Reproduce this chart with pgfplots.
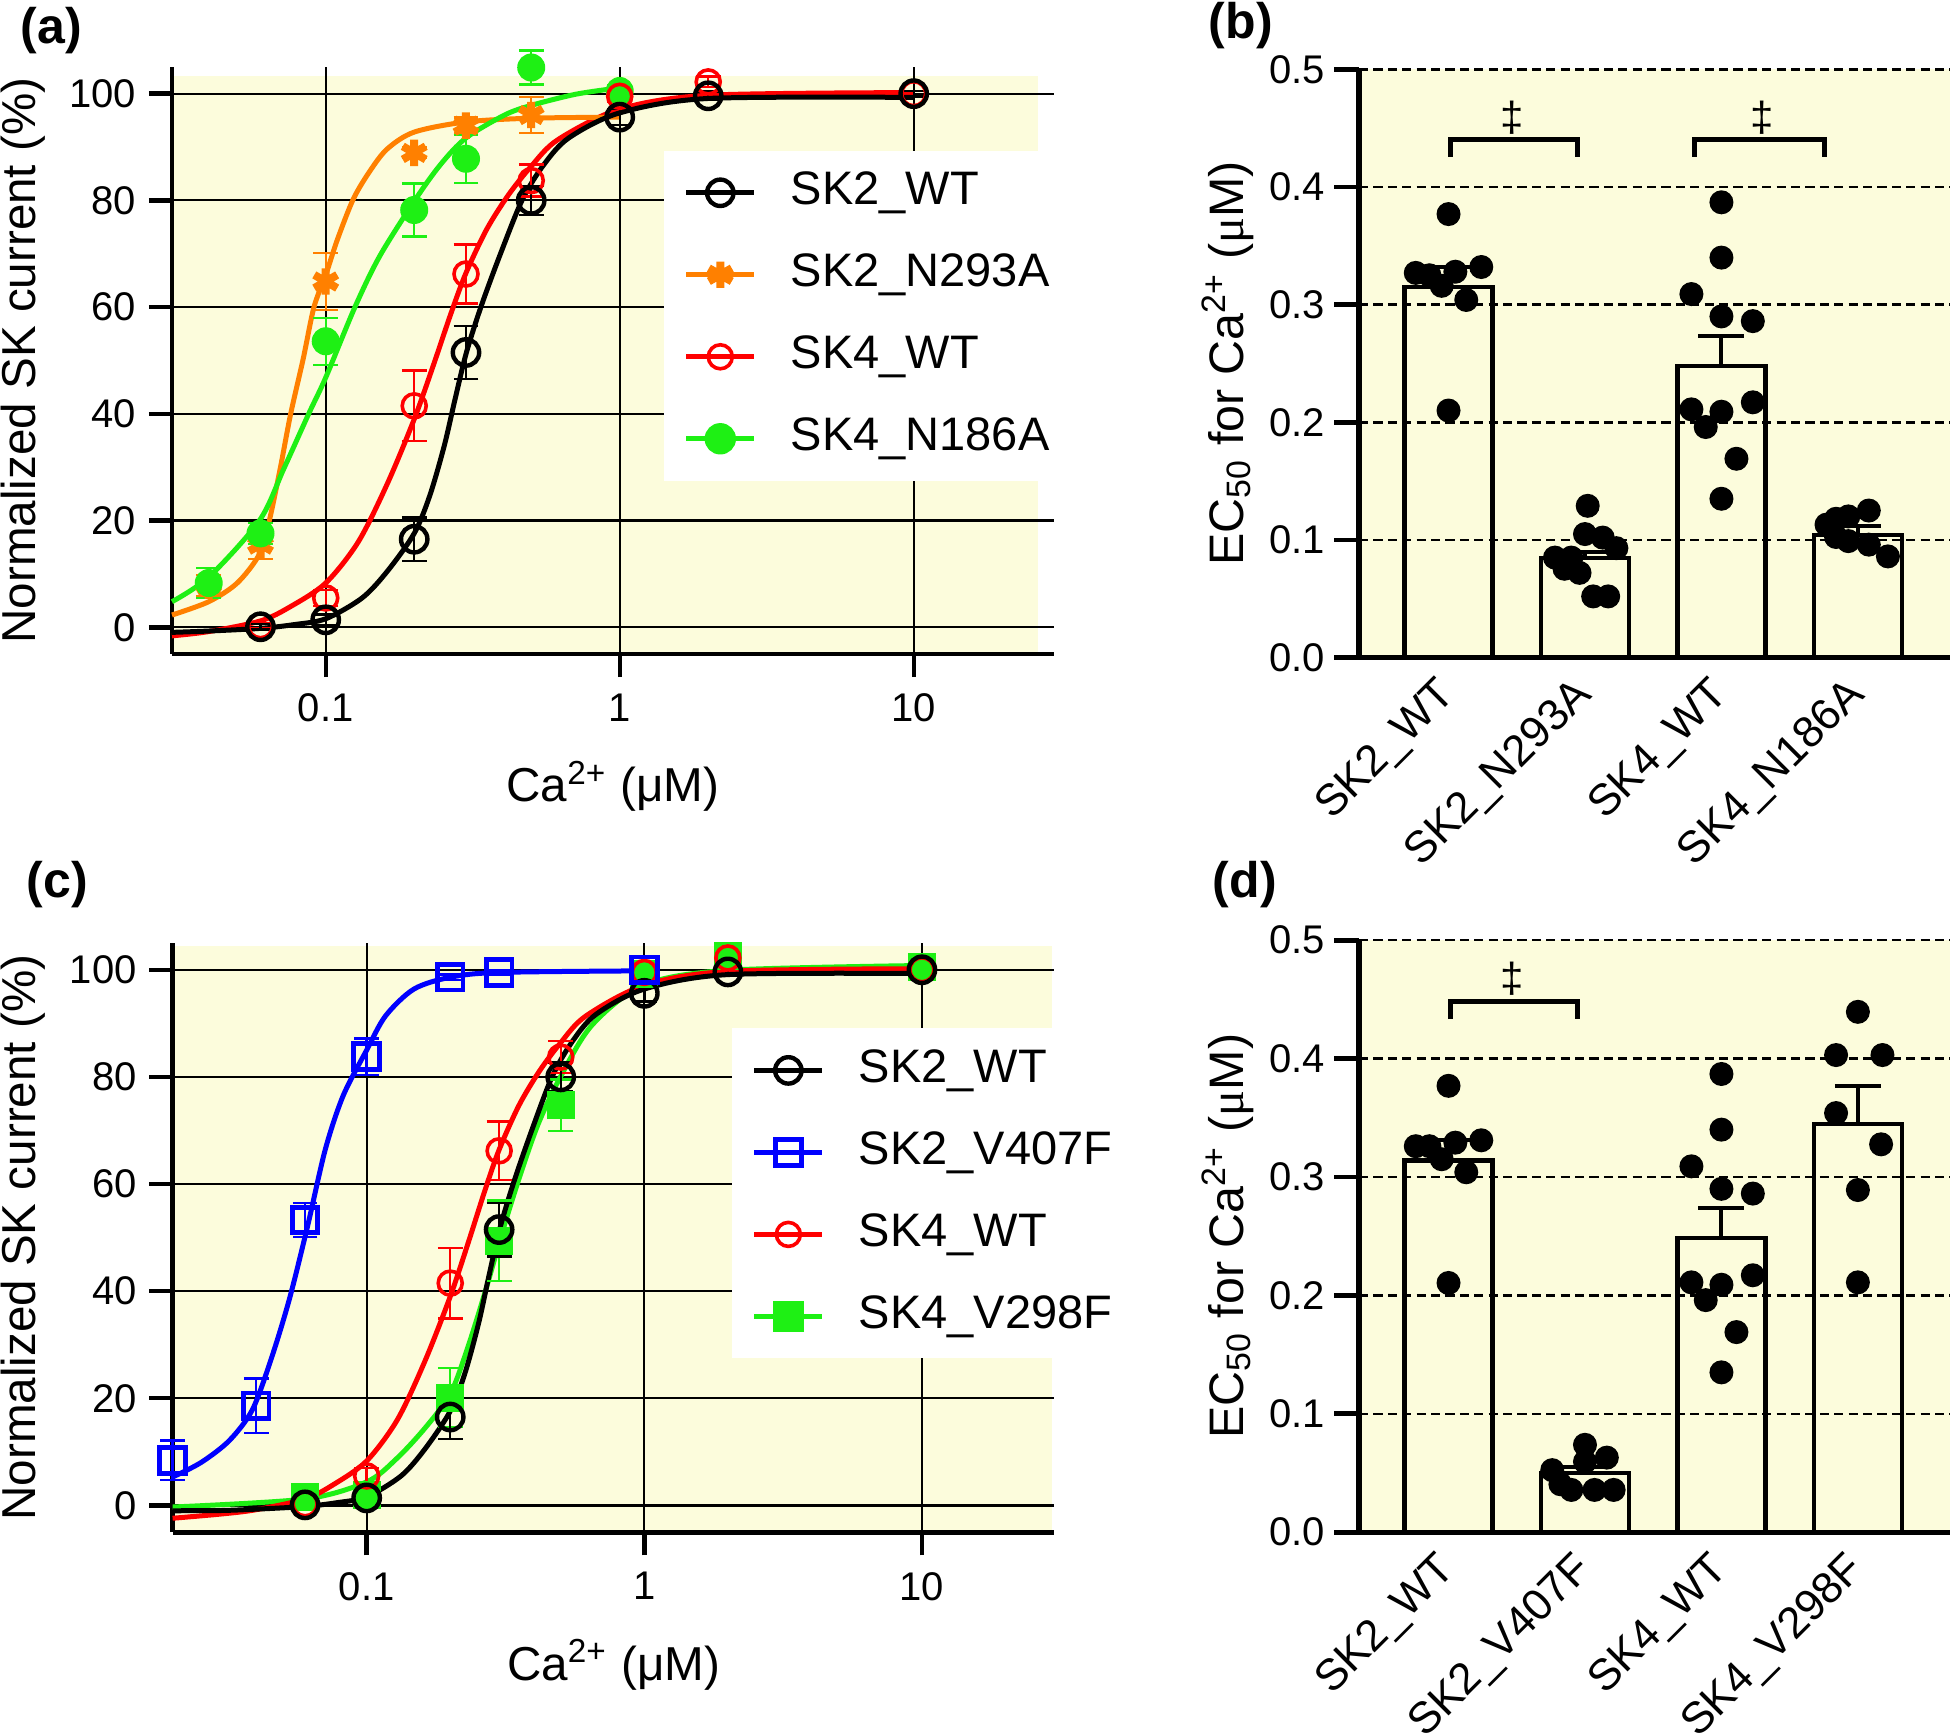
\documentclass[border=0pt]{standalone}
\usepackage{fontspec}
\setmainfont{Liberation Sans}
\newfontfamily\serifmu{Liberation Serif}
\usepackage{pgfplots}
\pgfplotsset{compat=1.18}
\definecolor{bgy}{RGB}{252,252,220}
\definecolor{cor}{RGB}{255,128,0}
\definecolor{cgr}{RGB}{30,240,20}
\definecolor{cbl}{RGB}{0,0,255}
\definecolor{crd}{RGB}{255,0,0}
\newcommand{\tickfont}{\fontsize{10}{12}\selectfont}
\newcommand{\rotfont}{\fontsize{11}{13}\selectfont}
\newcommand{\labfont}{\fontsize{11.9}{14}\selectfont}
\newcommand{\blabfont}{\fontsize{12.1}{14}\selectfont}
\newcommand{\legfont}{\fontsize{11.75}{14}\selectfont}
\newcommand{\panfont}{\bfseries\fontsize{12.5}{15}\selectfont}
\pgfplotsset{legend image code/.code={\draw[mark repeat=2, mark phase=2, #1] plot coordinates {(0pt,0pt) (8.5pt,0pt) (17pt,0pt)};}}
\pgfplotsset{
  bars/.style={ybar, bar width=0.645, bar shift=0pt, draw=black, fill=none, line width=1.1pt,
    error bars/.cd, y dir=plus, y explicit, error bar style={line width=1pt, black},
    error mark options={rotate=90, mark size=5.75pt, line width=1pt, black}},
  dots/.style={only marks, mark=*, mark size=2.8pt, black},
  fitline/.style={line width=1.25pt, smooth, no markers, forget plot},
  mkWT2/.style={only marks, black, mark=o, mark size=3.3pt, mark options={line width=1.1pt}},
  mkWT4/.style={only marks, crd, mark=o, mark size=3.0pt, mark options={line width=0.9pt}},
  mkN293/.style={only marks, cor, mark=asterisk, mark size=3.3pt, mark options={line width=2pt}},
  mkN186/.style={only marks, cgr, mark=*, mark size=3.3pt},
  mkV407/.style={only marks, cbl, mark=square, mark size=3.2pt, mark options={line width=1.2pt}},
  mkV298/.style={only marks, cgr, mark=square*, mark size=3.3pt},
  ebar/.style={error bars/.cd, y dir=both, y explicit, error bar style={line width=0.6pt},
    error mark options={rotate=90, mark size=3.1pt, line width=0.6pt}},
}
\begin{document}
\begin{tikzpicture}

% ---------------- (a) ----------------
\begin{axis}[xmode=log, xmin=0.03, xmax=30, ymin=-5, ymax=105,
  scale only axis, width=220.5pt, height=146.75pt, clip=false, set layers,
  axis x line=bottom, axis y line=left,
  axis line style={-, line width=1.2pt, black},
  tick align=outside, major tick length=5.8pt,
  tick style={line width=1.1pt, black},
  xtick={0.1,1,10}, xticklabels={0.1,1,10}, xminorticks=false,
  ytick={0,20,40,60,80,100}, yticklabels={0,20,40,60,80,100},
  grid=major, major grid style={line width=0.55pt, black},
  tick label style={font=\tickfont},
  xticklabel style={anchor=north, inner sep=0pt},
  yticklabel style={anchor=east, inner sep=0pt},
  xticklabel shift=4pt, yticklabel shift=3pt,
  xlabel={Ca\textsuperscript{2+} (μM)},
  ylabel={Normalized SK current (\%)},
  every axis x label/.style={at={(axis description cs:0.5,0)}, anchor=base, yshift=-37pt, font=\labfont},
  every axis y label/.style={at={(axis description cs:-0.169,0.5)}, rotate=90, anchor=center, font=\labfont},
  legend cell align=left,
  legend style={at={(0.5567,0.8586)}, anchor=north west, fill=white, draw=none, font=\legfont,
    inner xsep=5pt, inner ysep=5pt, row sep=9.5pt, column sep=8.5pt,
    nodes={inner sep=0pt, text height=8.5pt, text depth=2.5pt}},
  at={(43pt,270pt)}, anchor=south west]
\begin{pgfonlayer}{axis background}
\fill[bgy] (axis cs:0.03,-5) rectangle (axis cs:26.4,103.3);
\end{pgfonlayer}
\addplot[fitline, crd] table[row sep=\\] {
x y\\ 0.03 -1.6\\ 0.04 -0.8\\ 0.06 1.2\\ 0.076 3.9\\ 0.1 8.3\\ 0.129 16.0\\ 0.162 26.9\\ 0.2 39\\ 0.232 49\\ 0.267 58.9\\ 0.3 66.4\\ 0.353 74.6\\ 0.418 81\\ 0.5 86.4\\ 0.617 91.4\\ 1.0 97.1\\ 2.0 99.7\\ 10 100.2\\
};
\addplot[fitline, cor] table[row sep=\\] {
x y\\ 0.03 2.3\\ 0.04 4.8\\ 0.05 8.3\\ 0.0595 13.7\\ 0.0643 20\\ 0.07 29.7\\ 0.076 40\\ 0.0839 50.4\\ 0.0912 60\\ 0.1 66\\ 0.1093 72.5\\ 0.124 80.2\\ 0.1406 85.3\\ 0.1616 89.6\\ 0.2 92.8\\ 0.3 94.7\\ 0.5 95.4\\ 1.0 95.6\\
};
\addplot[fitline, cgr] table[row sep=\\] {
x y\\ 0.03 4.8\\ 0.04 9.4\\ 0.0595 20\\ 0.072 29.7\\ 0.0875 40\\ 0.1 46.8\\ 0.1257 60\\ 0.1528 69.6\\ 0.202 80.2\\ 0.2456 86.7\\ 0.3 91.7\\ 0.406 96\\ 0.5 97.8\\ 0.71 99.9\\ 1.0 101.1\\
};
\addplot[fitline, black] table[row sep=\\] {
x y\\ 0.03 -0.95\\ 0.04 -0.7\\ 0.06 -0.2\\ 0.078 0.5\\ 0.1 1.6\\ 0.133 5.5\\ 0.162 10.5\\ 0.2 17.6\\ 0.226 24.7\\ 0.253 34\\ 0.275 42.6\\ 0.301 51.5\\ 0.339 60.4\\ 0.395 70.3\\ 0.467 80.2\\ 0.552 86.7\\ 0.671 91.7\\ 1.0 96.4\\ 2.0 99.1\\ 10 99.3\\
};
\addplot[forget plot, mkN293, ebar] table[row sep=\\, x=x, y=y, y error=e] {
x y e\\ 0.04 7.8 2.0\\ 0.06 15.5 2.7\\ 0.1 64.8 5.3\\ 0.2 88.9 1.0\\ 0.3 94.0 1.5\\ 0.5 96.0 3.4\\ 1 99.9 1.0\\
};
\addplot[forget plot, mkN186, ebar] table[row sep=\\, x=x, y=y, y error=e] {
x y e\\ 0.04 8.3 2.8\\ 0.06 17.6 2.0\\ 0.1 53.6 4.4\\ 0.2 78.2 5.0\\ 0.3 87.8 4.5\\ 0.5 104.9 3.2\\ 1 100.5 1.0\\
};
\addplot[forget plot, mkWT4, ebar] table[row sep=\\, x=x, y=y, y error=e] {
x y e\\ 0.06 0.3 0.5\\ 0.1 5.5 1.5\\ 0.2 41.5 6.6\\ 0.3 66.2 5.5\\ 0.5 83.7 3.0\\ 1 99.5 1.0\\ 2 102.2 1.0\\ 10 100 0.5\\
};
\addplot[forget plot, mkWT2, ebar] table[row sep=\\, x=x, y=y, y error=e] {
x y e\\ 0.06 0.1 0.5\\ 0.1 1.4 1.0\\ 0.2 16.5 4.1\\ 0.3 51.5 5.0\\ 0.5 80.0 2.7\\ 1 95.6 1.5\\ 2 99.6 0.8\\ 10 100 0.5\\
};
\addlegendimage{black, line width=1.25pt, mark=o, mark size=3.3pt, mark options={line width=1.1pt}}
\addlegendentry{SK2\_WT}
\addlegendimage{cor, line width=1.25pt, mark=asterisk, mark size=3.3pt, mark options={line width=2pt}}
\addlegendentry{SK2\_N293A}
\addlegendimage{crd, line width=1.25pt, mark=o, mark size=3.0pt, mark options={line width=0.9pt}}
\addlegendentry{SK4\_WT}
\addlegendimage{cgr, line width=1.25pt, mark=*, mark size=3.3pt}
\addlegendentry{SK4\_N186A}
\end{axis}

% ---------------- (b) ----------------
\begin{axis}[xmin=-0.656, xmax=3.675, ymin=0, ymax=0.5,
  scale only axis, width=147.75pt, height=147.05pt, clip=false, set layers,
  axis x line=bottom, axis y line=left,
  axis line style={-, line width=1.3pt, black},
  tick align=outside, major tick length=6.25pt,
  tick style={line width=1.2pt, black},
  xtick={0,1,2,3}, xtick style={draw=none},
  xticklabels={SK2\_WT,SK2\_N293A,SK4\_WT,SK4\_N186A},
  ytick={0,0.1,0.2,0.3,0.4,0.5}, yticklabels={0.0,0.1,0.2,0.3,0.4,0.5},
  ymajorgrids, major grid style={line width=0.6pt, black, dash pattern=on 2.3pt off 1.3pt},
  tick label style={font=\tickfont},
  xticklabel style={xshift=-3.4pt, rotate=45, anchor=north east, inner sep=0pt, font=\rotfont},
  yticklabel style={anchor=east, inner sep=0pt},
  xticklabel shift=-2.25pt, yticklabel shift=2pt,
  ylabel={EC\textsubscript{50} for Ca\textsuperscript{2+} ({\serifmu μ}M)},
  every axis y label/.style={at={(axis description cs:-0.222,0.5)}, rotate=90, anchor=center, font=\blabfont},
  at={(339.75pt,269.1pt)}, anchor=south west]
\begin{pgfonlayer}{axis background}
\fill[bgy] (axis cs:-0.656,0) rectangle (axis cs:3.675,0.5);
\end{pgfonlayer}
\addplot[bars] table[row sep=\\, x=x, y=y, y error=e] {
x y e\\ 0 0.315 0.017\\ 1 0.0845 0.005\\ 2 0.248 0.025\\ 3 0.104 0.008\\
};
\addplot[dots] table[row sep=\\] {
x y\\ 0 0.377\\ -0.24 0.327\\ -0.14 0.325\\ -0.05 0.316\\ 0.05 0.328\\ 0.13 0.304\\ 0.24 0.332\\ 0 0.210\\
};
\addplot[dots] table[row sep=\\] {
x y\\ 1.02 0.129\\ 1.0 0.105\\ 1.13 0.102\\ 1.23 0.093\\ 0.78 0.085\\ 0.9 0.085\\ 0.85 0.0755\\ 0.96 0.072\\ 1.06 0.052\\ 1.17 0.052\\
};
\addplot[dots] table[row sep=\\] {
x y\\ 2 0.387\\ 2 0.340\\ 1.78 0.309\\ 2 0.290\\ 2.23 0.286\\ 1.78 0.211\\ 2 0.209\\ 1.885 0.196\\ 2.23 0.217\\ 2.11 0.169\\ 2 0.135\\
};
\addplot[dots] table[row sep=\\] {
x y\\ 2.77 0.113\\ 2.84 0.118\\ 2.93 0.120\\ 3.08 0.125\\ 2.84 0.1025\\ 2.93 0.099\\ 3.08 0.096\\ 3.22 0.086\\
};
\draw[line width=1.25pt] (axis cs:0.011,0.4256) -- (axis cs:0.011,0.440) -- (axis cs:0.945,0.440) -- (axis cs:0.945,0.4256);
\draw[line width=1.25pt] (axis cs:1.806,0.4256) -- (axis cs:1.806,0.440) -- (axis cs:2.758,0.440) -- (axis cs:2.758,0.4256);
\node[font=\fontsize{10.5}{12}\selectfont] at (axis cs:0.47,0.459) {‡};
\node[font=\fontsize{10.5}{12}\selectfont] at (axis cs:2.30,0.459) {‡};
\end{axis}

% ---------------- (c) ----------------
\begin{axis}[xmode=log, xmin=0.02, xmax=30, ymin=-5, ymax=105,
  scale only axis, width=220.45pt, height=147.3pt, clip=false, set layers,
  axis x line=bottom, axis y line=left,
  axis line style={-, line width=1.2pt, black},
  tick align=outside, major tick length=5.8pt,
  tick style={line width=1.1pt, black},
  xtick={0.1,1,10}, xticklabels={0.1,1,10}, xminorticks=false,
  ytick={0,20,40,60,80,100}, yticklabels={0,20,40,60,80,100},
  grid=major, major grid style={line width=0.55pt, black},
  tick label style={font=\tickfont},
  xticklabel style={anchor=north, inner sep=0pt},
  yticklabel style={anchor=east, inner sep=0pt},
  xticklabel shift=4pt, yticklabel shift=3pt,
  xlabel={Ca\textsuperscript{2+} (μM)},
  ylabel={Normalized SK current (\%)},
  every axis x label/.style={at={(axis description cs:0.5,0)}, anchor=base, yshift=-37pt, font=\labfont},
  every axis y label/.style={at={(axis description cs:-0.1697,0.5)}, rotate=90, anchor=center, font=\labfont},
  legend cell align=left,
  legend style={at={(0.6333,0.8564)}, anchor=north west, fill=white, draw=none, font=\legfont,
    inner xsep=5pt, inner ysep=5pt, row sep=9.5pt, column sep=8.5pt,
    nodes={inner sep=0pt, text height=8.5pt, text depth=2.5pt}},
  at={(43.15pt,50.45pt)}, anchor=south west]
\begin{pgfonlayer}{axis background}
\fill[bgy] (axis cs:0.02,-5) rectangle (axis cs:29.5,104.5);
\end{pgfonlayer}
\addplot[fitline, cgr] table[row sep=\\] {
x y\\ 0.02 -0.3\\ 0.06 1.2\\ 0.1 4.4\\ 0.128 8.7\\ 0.162 14.4\\ 0.2 20.8\\ 0.231 29.4\\ 0.268 40.1\\ 0.31 51.5\\ 0.36 62.2\\ 0.417 71.5\\ 0.5 80.1\\ 0.649 89.7\\ 1.0 97.2\\ 2.0 99.9\\ 10 100.8\\
};
\addplot[fitline, crd] table[row sep=\\] {
x y\\ 0.02 -2.4\\ 0.03 -1.6\\ 0.04 -0.8\\ 0.06 1.2\\ 0.076 3.9\\ 0.1 8.3\\ 0.129 16.0\\ 0.162 26.9\\ 0.2 39\\ 0.232 49\\ 0.267 58.9\\ 0.3 66.4\\ 0.353 74.6\\ 0.418 81\\ 0.5 86.4\\ 0.617 91.4\\ 1.0 97.1\\ 2.0 99.7\\ 10 100.2\\
};
\addplot[fitline, black] table[row sep=\\] {
x y\\ 0.02 -1.0\\ 0.03 -0.95\\ 0.04 -0.7\\ 0.06 -0.2\\ 0.078 0.5\\ 0.1 1.6\\ 0.133 5.5\\ 0.162 10.5\\ 0.2 17.6\\ 0.226 24.7\\ 0.253 34\\ 0.275 42.6\\ 0.301 51.5\\ 0.339 60.4\\ 0.395 70.3\\ 0.467 80.2\\ 0.552 86.7\\ 0.671 91.7\\ 1.0 96.4\\ 2.0 99.1\\ 10 99.3\\
};
\addplot[fitline, cbl] table[row sep=\\] {
x y\\ 0.02 5.3\\ 0.0253 8.0\\ 0.032 12.1\\ 0.0388 17.9\\ 0.0456 27.8\\ 0.0528 38.7\\ 0.0613 52.2\\ 0.071 66.5\\ 0.0823 76.5\\ 0.1 85.0\\ 0.117 91.4\\ 0.148 96.4\\ 0.2 98.6\\ 0.3 99.5\\ 1.0 99.8\\
};
\addplot[forget plot, mkV298, ebar] table[row sep=\\, x=x, y=y, y error=e] {
x y e\\ 0.06 1.6 1.0\\ 0.1 2.0 1.0\\ 0.2 20.1 5.5\\ 0.3 49.4 7.5\\ 0.5 74.7 4.8\\ 1 99.3 1.0\\ 2 102.6 1.0\\ 10 100.6 0.5\\
};
\addplot[forget plot, mkWT4, ebar] table[row sep=\\, x=x, y=y, y error=e] {
x y e\\ 0.06 0.3 0.5\\ 0.1 5.5 1.5\\ 0.2 41.5 6.6\\ 0.3 66.2 5.5\\ 0.5 83.7 3.0\\ 1 99.5 1.0\\ 2 102.2 1.0\\ 10 100 0.5\\
};
\addplot[forget plot, mkWT2, ebar] table[row sep=\\, x=x, y=y, y error=e] {
x y e\\ 0.06 0.1 0.5\\ 0.1 1.4 1.0\\ 0.2 16.5 4.1\\ 0.3 51.5 5.0\\ 0.5 80.0 2.7\\ 1 95.6 1.5\\ 2 99.6 0.8\\ 10 100 0.5\\
};
\addplot[forget plot, mkV407, ebar] table[row sep=\\, x=x, y=y, y error=e] {
x y e\\ 0.02 8.4 3.7\\ 0.04 18.6 5.1\\ 0.06 53.3 3.2\\ 0.1 83.8 3.4\\ 0.2 98.6 0.5\\ 0.3 99.5 0.5\\ 1 100 0.5\\
};
\addlegendimage{black, line width=1.25pt, mark=o, mark size=3.3pt, mark options={line width=1.1pt}}
\addlegendentry{SK2\_WT}
\addlegendimage{cbl, line width=1.25pt, mark=square, mark size=3.2pt, mark options={line width=1.2pt}}
\addlegendentry{SK2\_V407F}
\addlegendimage{crd, line width=1.25pt, mark=o, mark size=3.0pt, mark options={line width=0.9pt}}
\addlegendentry{SK4\_WT}
\addlegendimage{cgr, line width=1.25pt, mark=square*, mark size=3.3pt}
\addlegendentry{SK4\_V298F}
\end{axis}

% ---------------- (d) ----------------
\begin{axis}[xmin=-0.656, xmax=3.675, ymin=0, ymax=0.5,
  scale only axis, width=147.75pt, height=148pt, clip=false, set layers,
  axis x line=bottom, axis y line=left,
  axis line style={-, line width=1.3pt, black},
  tick align=outside, major tick length=6.25pt,
  tick style={line width=1.2pt, black},
  xtick={0,1,2,3}, xtick style={draw=none},
  xticklabels={SK2\_WT,SK2\_V407F,SK4\_WT,SK4\_V298F},
  ytick={0,0.1,0.2,0.3,0.4,0.5}, yticklabels={0.0,0.1,0.2,0.3,0.4,0.5},
  ymajorgrids, major grid style={line width=0.6pt, black, dash pattern=on 2.3pt off 1.3pt},
  tick label style={font=\tickfont},
  xticklabel style={xshift=-3.4pt, rotate=45, anchor=north east, inner sep=0pt, font=\rotfont},
  yticklabel style={anchor=east, inner sep=0pt},
  xticklabel shift=-2.25pt, yticklabel shift=2pt,
  ylabel={EC\textsubscript{50} for Ca\textsuperscript{2+} ({\serifmu μ}M)},
  every axis y label/.style={at={(axis description cs:-0.222,0.5)}, rotate=90, anchor=center, font=\blabfont},
  at={(339.75pt,50.45pt)}, anchor=south west]
\begin{pgfonlayer}{axis background}
\fill[bgy] (axis cs:-0.656,0) rectangle (axis cs:3.675,0.5);
\end{pgfonlayer}
\addplot[bars] table[row sep=\\, x=x, y=y, y error=e] {
x y e\\ 0 0.314 0.017\\ 1 0.050 0.005\\ 2 0.2486 0.025\\ 3 0.345 0.032\\
};
\addplot[dots] table[row sep=\\] {
x y\\ 0 0.377\\ -0.24 0.326\\ -0.14 0.326\\ -0.05 0.315\\ 0.05 0.329\\ 0.13 0.304\\ 0.24 0.331\\ 0 0.2105\\
};
\addplot[dots] table[row sep=\\] {
x y\\ 0.76 0.0524\\ 0.82 0.0405\\ 0.9 0.0357\\ 1.0 0.0738\\ 1.0 0.0595\\ 1.07 0.0357\\ 1.16 0.063\\ 1.21 0.0357\\
};
\addplot[dots] table[row sep=\\] {
x y\\ 2 0.387\\ 2 0.340\\ 1.78 0.309\\ 2 0.290\\ 2.23 0.286\\ 1.78 0.211\\ 2 0.209\\ 1.885 0.196\\ 2.23 0.217\\ 2.11 0.169\\ 2 0.135\\
};
\addplot[dots] table[row sep=\\] {
x y\\ 3 0.4395\\ 2.84 0.403\\ 3.18 0.403\\ 2.84 0.354\\ 3.17 0.3276\\ 3 0.289\\ 3 0.211\\
};
\draw[line width=1.25pt] (axis cs:0.011,0.4334) -- (axis cs:0.011,0.4486) -- (axis cs:0.945,0.4486) -- (axis cs:0.945,0.4334);
\node[font=\fontsize{10.5}{12}\selectfont] at (axis cs:0.47,0.4676) {‡};
\end{axis}

\node[anchor=north west, inner sep=0pt, font=\panfont] at (5pt,431.8pt) {(a)};
\node[anchor=north west, inner sep=0pt, font=\panfont] at (302pt,433.2pt) {(b)};
\node[anchor=north west, inner sep=0pt, font=\panfont] at (6.5pt,218.5pt) {(c)};
\node[anchor=north west, inner sep=0pt, font=\panfont] at (303pt,218.5pt) {(d)};
\pgfresetboundingbox
\useasboundingbox (0,0) rectangle (487.5pt,433.5pt);
\end{tikzpicture}
\end{document}
